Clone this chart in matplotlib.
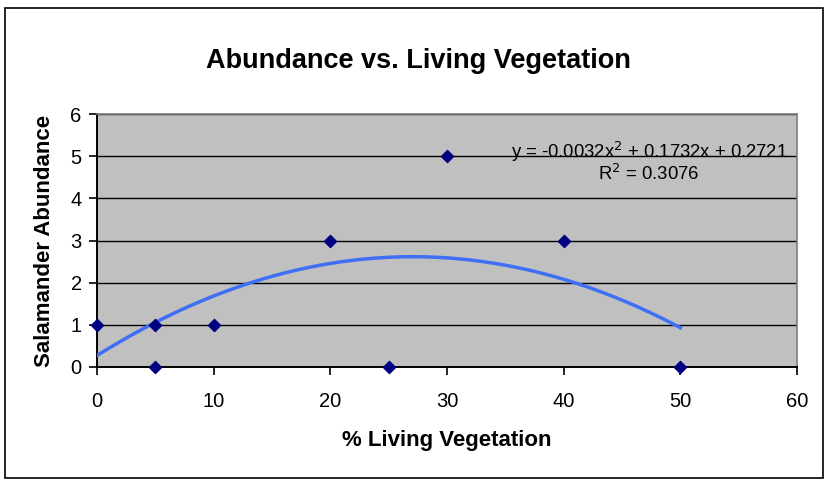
import numpy as np
import matplotlib
matplotlib.use("Agg")
import matplotlib.pyplot as plt
import matplotlib.patches as patches

# Data
veg_pct = [0, 5, 5, 10, 20, 25, 30, 40, 50]
abundance = [1, 1, 0, 1, 3, 0, 5, 3, 0]

# Excel polynomial trendline (order 2) as printed on the chart
trend_coef = [-0.0032, 0.1732, 0.2721]
r_squared = 0.3076

plt.rcParams['font.family'] = ['Liberation Sans', 'DejaVu Sans']

fig = plt.figure(figsize=(8.27, 4.87), dpi=100)
fig.patch.set_facecolor('white')

# outer chart border
fig.add_artist(patches.Rectangle((5 / 827, 1 - 478 / 487), 818 / 827, 470 / 487,
                                 transform=fig.transFigure, fill=False,
                                 edgecolor='black', linewidth=1.2))

ax = fig.add_axes([97 / 827, 1 - 367 / 487, 700 / 827, 253 / 487])
ax.set_facecolor('#c0c0c0')

# horizontal gridlines
ax.set_axisbelow(True)
ax.yaxis.grid(True, color='black', linewidth=1.0)

# trendline
xs = np.linspace(min(veg_pct), max(veg_pct), 200)
ax.plot(xs, np.polyval(trend_coef, xs), color='#3f6ff5', linewidth=2.5, zorder=3)

# data points
ax.scatter(veg_pct, abundance, marker='D', s=38, color='#000080', zorder=4,
           clip_on=False)

ax.set_xlim(0, 60)
ax.set_ylim(0, 6)
ax.set_xticks(range(0, 61, 10))
ax.set_yticks(range(0, 7))
ax.tick_params(direction='out', length=6, width=1.2, labelsize=14.5, pad=12,
               color='black')
ax.tick_params(axis='y', pad=5)

for side in ('left', 'bottom'):
    ax.spines[side].set_color('black')
    ax.spines[side].set_linewidth(1.4)
for side in ('top', 'right'):
    ax.spines[side].set_color('#808080')
    ax.spines[side].set_linewidth(1.2)

ax.set_xlabel('% Living Vegetation', fontsize=16, fontweight='bold', labelpad=14)
ax.set_ylabel('Salamander Abundance', fontsize=16, fontweight='bold', labelpad=11)

fig.text(418 / 827, 1 - 61 / 487, 'Abundance vs. Living Vegetation',
         ha='center', va='center', fontsize=19.5, fontweight='bold')

eq = ('y = %.4fx$^2$ + %.4fx + %.4f\nR$^2$ = %.4f'
      % (trend_coef[0], trend_coef[1], trend_coef[2], r_squared))
ax.text(47.3, 4.87, eq, ha='center', va='center', fontsize=13.3,
        multialignment='center', linespacing=1.0)

fig.savefig('out.png', dpi=100)
